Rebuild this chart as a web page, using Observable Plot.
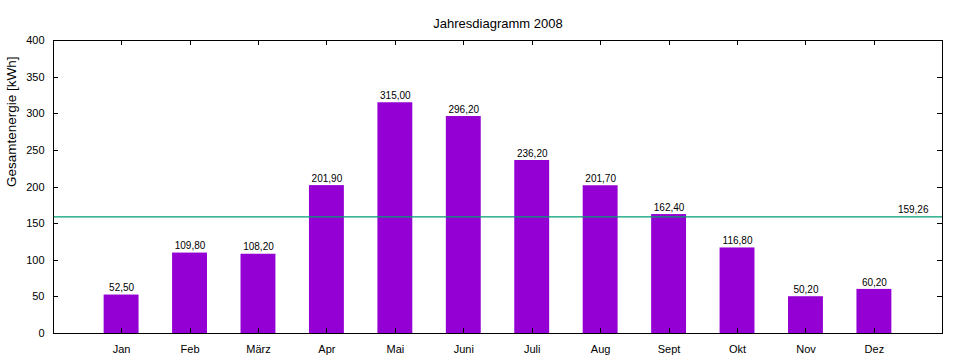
<!DOCTYPE html>
<html><head><meta charset="utf-8">
<script src="https://cdn.jsdelivr.net/npm/d3@7"></script>
<script src="https://cdn.jsdelivr.net/npm/@observablehq/plot@0.6"></script>
<style>body{margin:0;background:#fff}</style>
</head><body><div id="chart"></div>
<script>
const months = ["Jan","Feb","März","Apr","Mai","Juni","Juli","Aug","Sept","Okt","Nov","Dez"];
const values = [52.5,109.8,108.2,201.9,315.0,296.2,236.2,201.7,162.4,116.8,50.2,60.2];
const average = 159.26;
const title = "Jahresdiagramm 2008";
const yLabel = "Gesamtenergie [kWh]";
const yTicks = [0,50,100,150,200,250,300,350,400];

const data = months.map((m,i)=>({month:m, value:values[i]}));
const fmt = v => v.toFixed(2).replace(".", ",");

const chart = Plot.plot({
  width: 960, height: 360,
  marginTop: 40, marginBottom: 27, marginLeft: 53, marginRight: 18,
  style: {fontFamily: "Liberation Sans, Arial, sans-serif", fontSize: "11px", background: "#fff", color: "#000"},
  x: {domain: months, paddingInner: 0.49, paddingOuter: 0.74, align: 0.5, round: false, label: null},
  y: {domain: [0,400], label: null},
  marks: [
    Plot.barY(data, {x: "month", y: "value", fill: "#9400d3"}),
    Plot.text(data, {x: "month", y: "value", text: d => fmt(d.value), dy: -7, fontSize: 10, fill: "#000"}),
    Plot.ruleY([average], {stroke: "#009e73", strokeWidth: 1.2}),
    Plot.text([average], {y: d => d, frameAnchor: "right", textAnchor: "end", dx: -14, dy: -7, text: d => fmt(d), fontSize: 10, fill: "#000"}),
    Plot.axisY(yTicks, {anchor: "left", tickSize: 0, tickPadding: 9, label: null, fontSize: 11}),
    Plot.axisX({anchor: "bottom", tickSize: 0, tickPadding: 12, label: null, fontSize: 11}),
    Plot.frame({stroke: "#000", strokeWidth: 1}),
    Plot.text([title], {frameAnchor: "top", dy: -22, fontSize: 13, fill: "#000"}),
    Plot.text([yLabel], {frameAnchor: "left", rotate: -90, dx: -42, fontSize: 13.5, fill: "#000"})
  ]
});
document.getElementById("chart").appendChild(chart);

// inward ticks on left/right (y) and top/bottom (x) positioned via the chart's scales
const svg = d3.select(chart);
const ys = chart.scale("y"), xs = chart.scale("x");
const g = svg.append("g").attr("stroke", "#000").attr("stroke-width", 1);
const fLeft = 53, fRight = 942, fTop = 40, fBottom = 333;
yTicks.forEach(t => {
  const y = Math.round(ys.apply(t)) + 0.5;
  g.append("line").attr("x1", fLeft).attr("x2", fLeft + 5).attr("y1", y).attr("y2", y);
  g.append("line").attr("x1", fRight - 5).attr("x2", fRight).attr("y1", y).attr("y2", y);
});
months.forEach(m => {
  const x = Math.round(xs.apply(m) + xs.bandwidth / 2) + 0.5;
  g.append("line").attr("x1", x).attr("x2", x).attr("y1", fTop).attr("y2", fTop + 5);
  g.append("line").attr("x1", x).attr("x2", x).attr("y1", fBottom - 5).attr("y2", fBottom);
});
</script>
</body></html>
